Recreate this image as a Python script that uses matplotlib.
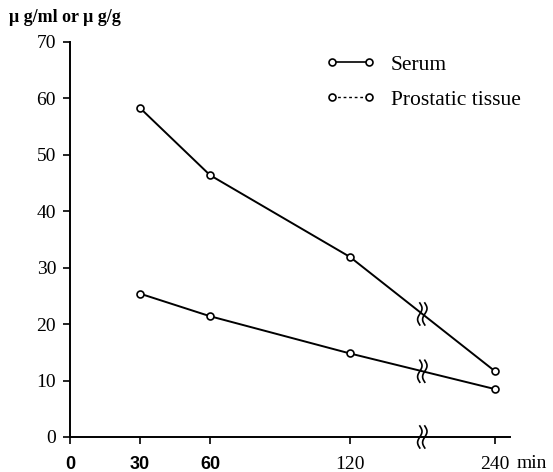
import numpy as np
import matplotlib.pyplot as plt
from matplotlib.lines import Line2D
from matplotlib.transforms import ScaledTranslation

# data
times = np.array([30, 60, 120, 240])
serum = np.array([58.3, 46.4, 31.9, 11.7])
prostatic = np.array([25.4, 21.4, 14.8, 8.5])
xticks = [0, 30, 60, 120, 240]
yticks = [0, 10, 20, 30, 40, 50, 60, 70]

# broken time axis: linear up to 120 min, compressed after
BREAK_AT = 120
SQUEEZE = 62 / 120


def xpos(t):
    t = np.asarray(t, dtype=float)
    return np.where(t <= BREAK_AT, t, BREAK_AT + (t - BREAK_AT) * SQUEEZE)


serif = 'Liberation Serif'
sans = 'Liberation Sans'

fig = plt.figure(figsize=(5.53, 4.72), dpi=100)
ax = fig.add_axes([0.1266, 0.0742, 0.7957, 0.8369])

for vals in (serum, prostatic):
    ax.plot(xpos(times), vals, color='black', lw=1.4, marker='o', ms=5,
            mfc='white', mec='black', mew=1.2, zorder=3)

ax.set_xlim(0, 188.6)
ax.set_ylim(0, 70)

for s in ['top', 'right']:
    ax.spines[s].set_visible(False)
for s in ['left', 'bottom']:
    ax.spines[s].set_linewidth(1.4)

ax.set_xticks(xpos(xticks))
ax.set_xticklabels([str(t) for t in xticks])
for lab, t in zip(ax.get_xticklabels(), xticks):
    lab.set_fontfamily(sans if t < 120 else serif)
    lab.set_fontsize(13 if t < 120 else 14)
    lab.set_fontweight('bold' if t < 120 else 'normal')
ax.set_yticks(yticks)
ax.set_yticklabels([str(v) for v in yticks], fontfamily=serif, fontsize=14)
ax.tick_params(direction='out', length=5, width=1.2)
ax.tick_params(axis='x', pad=9)
ax.tick_params(axis='y', pad=5)

# break marks on both curves and on the x axis, halfway between 120 and 240
xb = float((xpos(BREAK_AT) + xpos(240)) / 2)
tt = np.linspace(-1, 1, 40)
h = 0.11
for y_at in (np.interp(xb, xpos(times), serum),
             np.interp(xb, xpos(times), prostatic), 0):
    tr = fig.dpi_scale_trans + ScaledTranslation(xb, y_at, ax.transData)
    for dx in (-0.025, 0.025):
        ax.plot(dx + 0.022 * np.sin(tt * np.pi), tt * h, color='black',
                lw=1.2, transform=tr, clip_on=False, zorder=4)

ax.text(1.016, -0.0455, 'min', transform=ax.transAxes, ha='left', va='top',
        fontfamily=serif, fontsize=14)
fig.text(0.016, 0.962, 'μ g/ml or μ g/g', fontfamily=serif, fontsize=13,
         fontweight='bold', ha='left', va='center')

handles = [
    Line2D([], [], color='black', lw=1.2, ls='-', marker='o', ms=5,
           mfc='white', mec='black', mew=1.2),
    Line2D([], [], color='black', lw=1.0, ls=(0, (2, 2)), marker='o', ms=5,
           mfc='white', mec='black', mew=1.2),
]
fig.legend(handles, ['Serum', 'Prostatic tissue'], numpoints=2, frameon=False,
           loc='upper left', bbox_to_anchor=(0.5895, 0.884), borderpad=0,
           borderaxespad=0, handlelength=2.3, handletextpad=0.72,
           labelspacing=0.7, prop={'family': serif, 'size': 15.5})

fig.savefig('out.png', dpi=100)
